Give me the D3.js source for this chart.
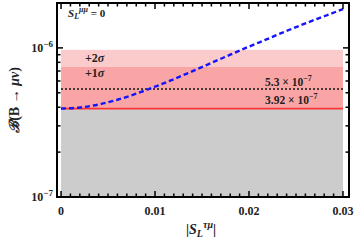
<!DOCTYPE html>
<html>
<head>
<meta charset="utf-8">
<script src="https://cdn.jsdelivr.net/npm/d3@7"></script>
<style>
  body { margin: 0; background: #fff; }
  svg { display: block; }
  text { font-family: "Liberation Serif", "DejaVu Serif", serif; font-weight: bold; fill: #222; }
</style>
</head>
<body>
<div id="chart"></div>
<script>
// |S_L^tau mu| samples and branching ratio
var couplings = [0, 0.002, 0.004, 0.006, 0.008, 0.010, 0.012, 0.014, 0.016, 0.018, 0.020, 0.022, 0.024, 0.026, 0.028, 0.030];
var branching = [3.92e-7, 3.98e-7, 4.17e-7, 4.49e-7, 4.93e-7, 5.49e-7, 6.17e-7, 6.99e-7, 7.93e-7, 9.0e-7, 1.02e-6, 1.15e-6, 1.30e-6, 1.46e-6, 1.63e-6, 1.82e-6];

// experimental bands
var central = 3.92e-7;
var oneSigma = 7.45e-7;
var twoSigma = 9.7e-7;
var dotted = 5.3e-7;

var xTicks = [0, 0.01, 0.02, 0.03];
var xTickLabels = ['0', '0.01', '0.02', '0.03'];
var yMajor = [1e-7, 1e-6];
var yMinor = [2e-7, 3e-7, 4e-7, 5e-7, 6e-7, 7e-7, 8e-7, 9e-7, 2e-6];

var width = 357, height = 242;
var pLeft = 57, pRight = 349, pTop = 3, pBottom = 197;

var svg = d3.select('#chart').append('svg')
	.attr('width', width)
	.attr('height', height);

var x = d3.scaleLinear().domain([-0.00043, 0.03064]).range([pLeft, pRight]);
var y = d3.scaleLog().domain([1e-7, 2e-6]).range([pBottom, pTop]);

var xMin = 0, xMax = 0.03;

// gray excluded region
svg.append('rect')
	.attr('x', x(xMin)).attr('width', x(xMax) - x(xMin))
	.attr('y', y(central)).attr('height', y(1e-7) - y(central))
	.style('fill', '#cccccc');

svg.append('rect')
	.attr('x', x(xMin)).attr('width', x(xMax) - x(xMin))
	.attr('y', y(twoSigma)).attr('height', y(oneSigma) - y(twoSigma))
	.style('fill', '#fbcaca');

svg.append('rect')
	.attr('x', x(xMin)).attr('width', x(xMax) - x(xMin))
	.attr('y', y(oneSigma)).attr('height', y(central) - y(oneSigma))
	.style('fill', '#f9a5a5');

// red central line
svg.append('line')
	.attr('x1', x(xMin)).attr('x2', x(xMax))
	.attr('y1', y(central)).attr('y2', y(central))
	.style('stroke', '#ff3535').style('stroke-width', 1.8);

// dotted line
svg.append('line')
	.attr('x1', x(xMin)).attr('x2', x(xMax))
	.attr('y1', y(dotted)).attr('y2', y(dotted))
	.style('stroke', '#111').style('stroke-width', 1.6)
	.style('stroke-dasharray', '2,2');

// blue dashed curve
var line = d3.line()
	.x(function (d, i) { return x(couplings[i]); })
	.y(function (d) { return y(d); })
	.curve(d3.curveMonotoneX);

svg.append('path')
	.datum(branching)
	.attr('d', line)
	.style('fill', 'none')
	.style('stroke', '#1414ff')
	.style('stroke-width', 2.4)
	.style('stroke-dasharray', '5,3');

// frame
svg.append('rect')
	.attr('x', pLeft).attr('y', pTop)
	.attr('width', pRight - pLeft).attr('height', pBottom - pTop)
	.style('fill', 'none').style('stroke', '#000').style('stroke-width', 2);

// x ticks (inward, bottom and top)
var xMinorTicks = d3.range(0, 31).map(function (i) { return i / 1000; });
xMinorTicks.forEach(function (t, i) {
	var len = i % 10 === 0 ? 6 : 3.5;
	svg.append('line').attr('x1', x(t)).attr('x2', x(t))
		.attr('y1', pBottom).attr('y2', pBottom - len)
		.style('stroke', '#000').style('stroke-width', 1.5);
	svg.append('line').attr('x1', x(t)).attr('x2', x(t))
		.attr('y1', pTop).attr('y2', pTop + len)
		.style('stroke', '#000').style('stroke-width', 1.5);
});

// y ticks (inward, left and right)
yMajor.concat(yMinor).forEach(function (t) {
	var len = yMajor.indexOf(t) >= 0 ? 6 : 3.5;
	svg.append('line').attr('x1', pLeft).attr('x2', pLeft + len)
		.attr('y1', y(t)).attr('y2', y(t))
		.style('stroke', '#000').style('stroke-width', 1.5);
	svg.append('line').attr('x1', pRight).attr('x2', pRight - len)
		.attr('y1', y(t)).attr('y2', y(t))
		.style('stroke', '#000').style('stroke-width', 1.5);
});

// x tick labels
svg.selectAll('.xlab').data(xTicks).enter().append('text')
	.attr('x', function (d) { return x(d); })
	.attr('y', 215)
	.attr('text-anchor', 'middle')
	.style('font-size', '12px')
	.text(function (d, i) { return xTickLabels[i]; });

// y tick labels 10^-6 / 10^-7
var yLab = svg.selectAll('.ylab').data(yMajor).enter().append('text')
	.attr('x', 53)
	.attr('y', function (d) { return y(d) + 4; })
	.attr('text-anchor', 'end')
	.style('font-size', '12px');
yLab.append('tspan').text('10');
yLab.append('tspan').attr('dy', -5).style('font-size', '9px')
	.text(function (d) { return '\u2212' + Math.round(-Math.log10(d)); });

// axis titles
var yt = svg.append('text')
	.attr('transform', 'translate(19,' + ((pTop + pBottom) / 2) + ') rotate(-90)')
	.attr('text-anchor', 'middle')
	.style('font-size', '14px');
yt.append('tspan').style('font-style', 'italic').text('\u212C');
yt.append('tspan').text('(B \u2192 ');
yt.append('tspan').style('font-style', 'italic').text('\u03BC\u03BD');
yt.append('tspan').text(')');

var xt = svg.append('text')
	.attr('x', 201).attr('y', 234)
	.attr('text-anchor', 'middle')
	.style('font-size', '14px');
xt.append('tspan').text('|');
xt.append('tspan').style('font-style', 'italic').text('S');
xt.append('tspan').attr('dy', 3).style('font-size', '10px').style('font-style', 'italic').text('L');
xt.append('tspan').attr('dy', -9).style('font-size', '10px').style('font-style', 'italic').text('\u03C4\u03BC');
xt.append('tspan').attr('dy', 6).text('|');

// annotations
var s0 = svg.append('text').attr('x', 68).attr('y', 17).style('font-size', '11px');
s0.append('tspan').style('font-style', 'italic').text('S');
s0.append('tspan').attr('dy', 2).style('font-size', '8px').style('font-style', 'italic').text('L');
s0.append('tspan').attr('dy', -7).style('font-size', '8px').style('font-style', 'italic').text('\u03BC\u03BC');
s0.append('tspan').attr('dy', 5).text(' = 0');

var sig2 = svg.append('text').attr('x', 85).attr('y', 62).style('font-size', '12px');
sig2.append('tspan').text('+2');
sig2.append('tspan').style('font-style', 'italic').text('\u03C3');

var sig1 = svg.append('text').attr('x', 85).attr('y', 77).style('font-size', '12px');
sig1.append('tspan').text('+1');
sig1.append('tspan').style('font-style', 'italic').text('\u03C3');

var a1 = svg.append('text').attr('x', 265).attr('y', 86).style('font-size', '11.5px');
a1.append('tspan').text('5.3 \u00D7 10');
a1.append('tspan').attr('dy', -5).style('font-size', '8px').text('\u22127');

var a2 = svg.append('text').attr('x', 265).attr('y', 104).style('font-size', '11.5px');
a2.append('tspan').text('3.92 \u00D7 10');
a2.append('tspan').attr('dy', -5).style('font-size', '8px').text('\u22127');
</script>
</body>
</html>
